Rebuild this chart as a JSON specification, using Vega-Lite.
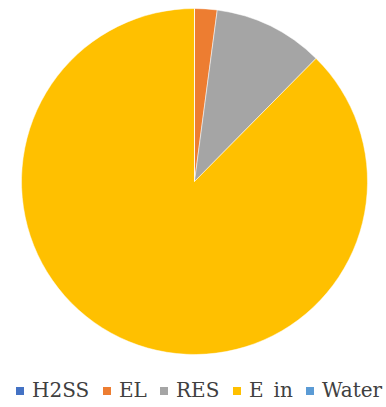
{
  "$schema": "https://vega.github.io/schema/vega-lite/v6.json",
  "width": 383,
  "height": 363,
  "padding": {"left": 3, "top": 0, "right": 0, "bottom": 0},
  "autosize": {"type": "pad"},
  "background": "white",
  "data": {
    "values": [
      {"name": "H2SS", "value": 0, "order": 1},
      {"name": "EL", "value": 2.1, "order": 2},
      {"name": "RES", "value": 10.3, "order": 3},
      {"name": "E_in", "value": 87.6, "order": 4},
      {"name": "Water", "value": 0, "order": 5}
    ]
  },
  "mark": {"type": "arc", "outerRadius": 173, "stroke": "white", "strokeWidth": 0.5},
  "encoding": {
    "theta": {"field": "value", "type": "quantitative", "stack": true},
    "order": {"field": "order", "type": "quantitative"},
    "color": {
      "field": "name",
      "type": "nominal",
      "sort": ["H2SS", "EL", "RES", "E_in", "Water"],
      "scale": {
        "domain": ["H2SS", "EL", "RES", "E_in", "Water"],
        "range": ["#4472C4", "#ED7D31", "#A5A5A5", "#FFC000", "#5B9BD5"]
      },
      "legend": {
        "title": null,
        "orient": "none",
        "direction": "horizontal",
        "gridAlign": "each",
        "legendX": 7,
        "legendY": 381,
        "symbolType": "square",
        "symbolSize": 64,
        "symbolStrokeWidth": 0,
        "labelFont": "DejaVu Serif",
        "labelFontSize": 20,
        "labelColor": "#404040",
        "labelOffset": 2,
        "columnPadding": 7,
        "labelLimit": 200
      }
    }
  }
}
